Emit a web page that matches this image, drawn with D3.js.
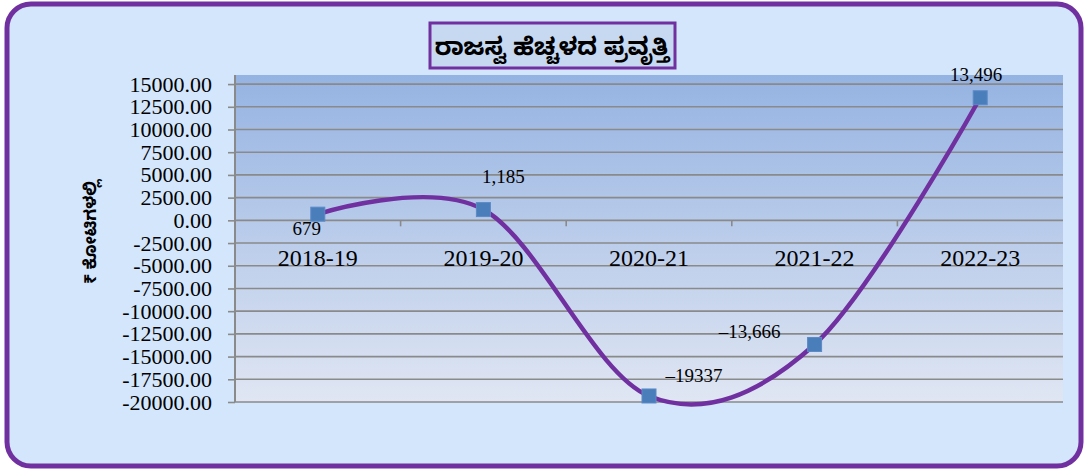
<!DOCTYPE html>
<html>
<head>
<meta charset="utf-8">
<script src="https://cdn.jsdelivr.net/npm/d3@7"></script>
<style>
  body { margin: 0; background: #fff; }
  svg { display: block; }
</style>
</head>
<body>
<div id="chart"></div>
<script>
// chart data
var years = ['2018-19', '2019-20', '2020-21', '2021-22', '2022-23'];
var deficit = [679, 1185, -19337, -13666, 13496];
var valueLabels = ['679', '1,185', '\u201319337', '\u201313,666', '13,496'];
var yTicks = [15000, 12500, 10000, 7500, 5000, 2500, 0, -2500, -5000, -7500, -10000, -12500, -15000, -17500, -20000];

var title = 'ರಾಜಸ್ವ ಹೆಚ್ಚಳದ ಪ್ರವೃತ್ತಿ';
var yTitle = '₹ ಕೋಟಿಗಳಲ್ಲಿ';

var W = 1086, H = 471;
var plot = {left: 235, right: 1063, top: 75, bottom: 402};
var serif = '"Times New Roman", "Liberation Serif", serif';

// where each value label sits relative to its marker
var labelOffset = [[-11, 21], [20, -27], [45, -14], [-65, -6], [-4, -17]];

var svg = d3.select('#chart').append('svg')
    .attr('width', W)
    .attr('height', H)

var defs = svg.append('defs')
var grad = defs.append('linearGradient')
    .attr('id', 'plotFill')
    .attr('x1', 0).attr('y1', 0).attr('x2', 0).attr('y2', 1)
grad.append('stop').attr('offset', '0%').attr('stop-color', '#95b3e2')
grad.append('stop').attr('offset', '100%').attr('stop-color', '#e0e6f3')

// outer frame
svg.append('rect')
    .attr('x', 7).attr('y', 4)
    .attr('width', W - 12).attr('height', H - 9)
    .attr('rx', 24).attr('ry', 24)
    .attr('fill', '#d3e6fc')
    .attr('stroke', '#7030a0')
    .attr('stroke-width', 5)

var x = d3.scaleBand()
    .domain(years)
    .range([plot.left, plot.right])

var y = d3.scaleLinear()
    .domain([-20000, 16000])
    .range([plot.bottom, plot.top])

svg.append('rect')
    .attr('x', plot.left).attr('y', plot.top)
    .attr('width', plot.right - plot.left)
    .attr('height', plot.bottom - plot.top)
    .attr('fill', 'url(#plotFill)')

// gridlines
svg.append('g')
    .selectAll('line')
    .data(yTicks)
    .join('line')
    .attr('x1', plot.left).attr('x2', plot.right)
    .attr('y1', function (d) { return y(d) }).attr('y2', function (d) { return y(d) })
    .attr('stroke', '#8a8a8a')
    .attr('stroke-width', 1.6)

// y axis
var yAxis = d3.axisLeft(y)
    .tickValues(yTicks)
    .tickFormat(d3.format('.2f'))
    .tickSize(7)
    .tickPadding(16)

var gy = svg.append('g')
    .attr('transform', 'translate(' + plot.left + ',0)')
    .call(yAxis)
gy.select('.domain').remove()
gy.append('line')
    .attr('y1', plot.top).attr('y2', plot.bottom)
    .attr('stroke', '#8a8a8a').attr('stroke-width', 2)
gy.selectAll('.tick line').attr('stroke', '#8a8a8a').attr('stroke-width', 1.6)
gy.selectAll('.tick text')
    .attr('fill', '#000')
    .attr('font-family', null)
    .attr('font-size', null)
    .style('font-family', serif)
    .style('font-size', '22px')
    .text(function (d) { return d3.format('.2f')(d).replace('\u2212', '-') })

// x axis sits on zero
var gx = svg.append('g')
    .attr('transform', 'translate(0,' + y(0) + ')')
gx.selectAll('line')
    .data(years.slice(1))
    .join('line')
    .attr('x1', function (d) { return x(d) }).attr('x2', function (d) { return x(d) })
    .attr('y1', 0).attr('y2', 6)
    .attr('stroke', '#8a8a8a').attr('stroke-width', 1.6)
gx.selectAll('text')
    .data(years)
    .join('text')
    .attr('x', function (d) { return x(d) + x.bandwidth() / 2 })
    .attr('y', 46)
    .attr('text-anchor', 'middle')
    .style('font-family', serif)
    .style('font-size', '24px')
    .text(function (d) { return d })

// smoothed line
var line = d3.line()
    .x(function (d, i) { return x(years[i]) + x.bandwidth() / 2 })
    .y(function (d) { return y(d) })
    .curve(d3.curveCatmullRom.alpha(0))

svg.append('path')
    .datum(deficit)
    .attr('d', line)
    .attr('fill', 'none')
    .attr('stroke', '#7030a0')
    .attr('stroke-width', 4.5)

svg.append('g')
    .selectAll('rect')
    .data(deficit)
    .join('rect')
    .attr('x', function (d, i) { return x(years[i]) + x.bandwidth() / 2 - 7 })
    .attr('y', function (d) { return y(d) - 7 })
    .attr('width', 14).attr('height', 14)
    .attr('fill', '#4a7ebb')
    .attr('stroke', '#5b8ac6')
    .attr('stroke-width', 1)

svg.append('g')
    .selectAll('text')
    .data(deficit)
    .join('text')
    .attr('x', function (d, i) { return x(years[i]) + x.bandwidth() / 2 + labelOffset[i][0] })
    .attr('y', function (d, i) { return y(d) + labelOffset[i][1] })
    .attr('text-anchor', 'middle')
    .style('font-family', serif)
    .style('font-size', '19px')
    .text(function (d, i) { return valueLabels[i] })

// title box
svg.append('rect')
    .attr('x', 430).attr('y', 23)
    .attr('width', 245).attr('height', 45)
    .attr('fill', '#c6d9f1')
    .attr('stroke', '#7030a0')
    .attr('stroke-width', 3)
svg.append('text')
    .attr('x', 552).attr('y', 55)
    .attr('text-anchor', 'middle')
    .style('font-family', '"Noto Sans Kannada", "Noto Sans", sans-serif')
    .style('font-weight', 'bold')
    .style('font-size', '24px')
    .text(title)

// y axis title
svg.append('text')
    .attr('transform', 'translate(96,232) rotate(-90)')
    .attr('text-anchor', 'middle')
    .style('font-family', '"Noto Sans Kannada", "Noto Sans", sans-serif')
    .style('font-weight', 'bold')
    .style('font-size', '17px')
    .text(yTitle)
</script>
</body>
</html>
